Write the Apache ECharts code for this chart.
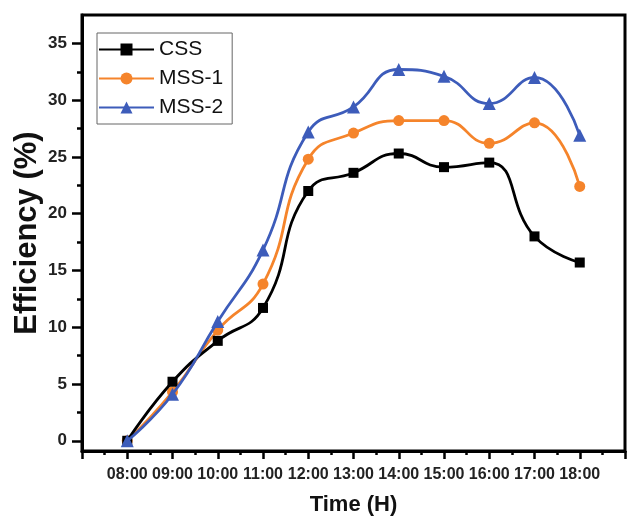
<!DOCTYPE html>
<html>
<head>
<meta charset="utf-8">
<script src="https://cdn.jsdelivr.net/npm/echarts@6/dist/echarts.min.js"></script>
<style>
  html, body { margin: 0; padding: 0; background: #fff; }
  #chart { width: 629px; height: 516px; }
</style>
</head>
<body>
<div id="chart"></div>
<script>
// Hour labels along the time axis
var times = ['08:00', '09:00', '10:00', '11:00', '12:00', '13:00', '14:00', '15:00', '16:00', '17:00', '18:00'];

// Efficiency (%) of each still, one value per hour
var cssValues  = [0, 5.2, 8.8, 11.7, 22.0, 23.6, 25.3, 24.1, 24.5, 18.0, 15.7];
var mss1Values = [0, 4.3, 9.75, 13.8, 24.8, 27.1, 28.2, 28.2, 26.2, 28.0, 22.4];
var mss2Values = [0, 4.1, 10.5, 16.8, 27.2, 29.4, 32.7, 32.1, 29.7, 32.0, 26.9];

// Y-axis tick values
var yMajorTicks = [0, 5, 10, 15, 20, 25, 30, 35];
var yMinorTicks = [2.5, 7.5, 12.5, 17.5, 22.5, 27.5, 32.5];

function pairs(values) {
  return values.map(function (v, i) { return [i, v]; });
}

var font = 'Arial, "Liberation Sans", sans-serif';

var chart = echarts.init(document.getElementById('chart'), null, { renderer: 'canvas' });

chart.setOption({
  animation: false,
  backgroundColor: '#fff',
  grid: {
    left: 82, right: 4, top: 15, bottom: 65,
    containLabel: false,
    outerBoundsMode: 'none',
    show: true, borderColor: '#000', borderWidth: 3
  },
  legend: {
    orient: 'vertical',
    left: 97, top: 33,
    padding: [6, 9, 6, 1],
    itemWidth: 55,
    itemHeight: 15,
    itemGap: 8,
    borderColor: '#666',
    borderWidth: 1,
    textStyle: { fontFamily: font, fontSize: 21, color: '#111', lineHeight: 21 },
    data: ['CSS', 'MSS-1', 'MSS-2']
  },
  xAxis: {
    type: 'value',
    min: -1, max: 11, interval: 1,
    name: 'Time (H)',
    nameLocation: 'middle',
    nameGap: 43,
    nameMoveOverlap: false,
    nameTextStyle: { fontFamily: font, fontSize: 22, fontWeight: 'bold', color: '#111' },
    axisLine: { onZero: false, lineStyle: { color: '#000', width: 3 } },
    axisTick: { length: 8, lineStyle: { color: '#000', width: 2.5 } },
    minorTick: { show: true, splitNumber: 2, length: 4, lineStyle: { color: '#000', width: 2.5 } },
    splitLine: { show: false },
    axisLabel: {
      margin: 16,
      fontFamily: font, fontSize: 16, fontWeight: 'bold', color: '#222',
      formatter: function (v) {
        return (v >= 0 && v < times.length) ? times[v] : '';
      }
    }
  },
  yAxis: [{
    type: 'value',
    min: -0.9, max: 37.5,
    name: 'Efficiency (%)',
    nameLocation: 'middle',
    nameRotate: 90,
    nameGap: 39,
    nameMoveOverlap: false,
    nameTextStyle: { fontFamily: font, fontSize: 31, fontWeight: 'bold', color: '#111' },
    axisLine: { onZero: false, lineStyle: { color: '#000', width: 3 } },
    axisTick: { length: 10, customValues: yMajorTicks, lineStyle: { color: '#000', width: 2.5 } },
    splitLine: { show: false },
    axisLabel: {
      margin: 15, customValues: yMajorTicks,
      fontFamily: font, fontSize: 17, fontWeight: 'bold', color: '#222'
    }
  }, {
    type: 'value',
    min: -0.9, max: 37.5,
    position: 'left',
    axisLine: { show: false, onZero: false },
    axisTick: { length: 5, customValues: yMinorTicks, lineStyle: { color: '#000', width: 2.5 } },
    splitLine: { show: false },
    axisLabel: { show: false }
  }],
  series: [{
    name: 'CSS',
    type: 'line',
    smooth: true,
    data: pairs(cssValues),
    color: '#000',
    symbol: 'rect', symbolSize: 10,
    lineStyle: { width: 2.8, color: '#000' },
    itemStyle: { color: '#000' },
    z: 4
  }, {
    name: 'MSS-1',
    type: 'line',
    smooth: true,
    data: pairs(mss1Values),
    color: '#F5842B',
    symbol: 'circle', symbolSize: 11,
    lineStyle: { width: 2.8, color: '#F5842B' },
    itemStyle: { color: '#F5842B' },
    z: 3
  }, {
    name: 'MSS-2',
    type: 'line',
    smooth: true,
    data: pairs(mss2Values),
    color: '#3D5CBA',
    symbol: 'triangle', symbolSize: 13,
    lineStyle: { width: 2.8, color: '#3D5CBA' },
    itemStyle: { color: '#3D5CBA' },
    z: 5
  }]
});
</script>
</body>
</html>
